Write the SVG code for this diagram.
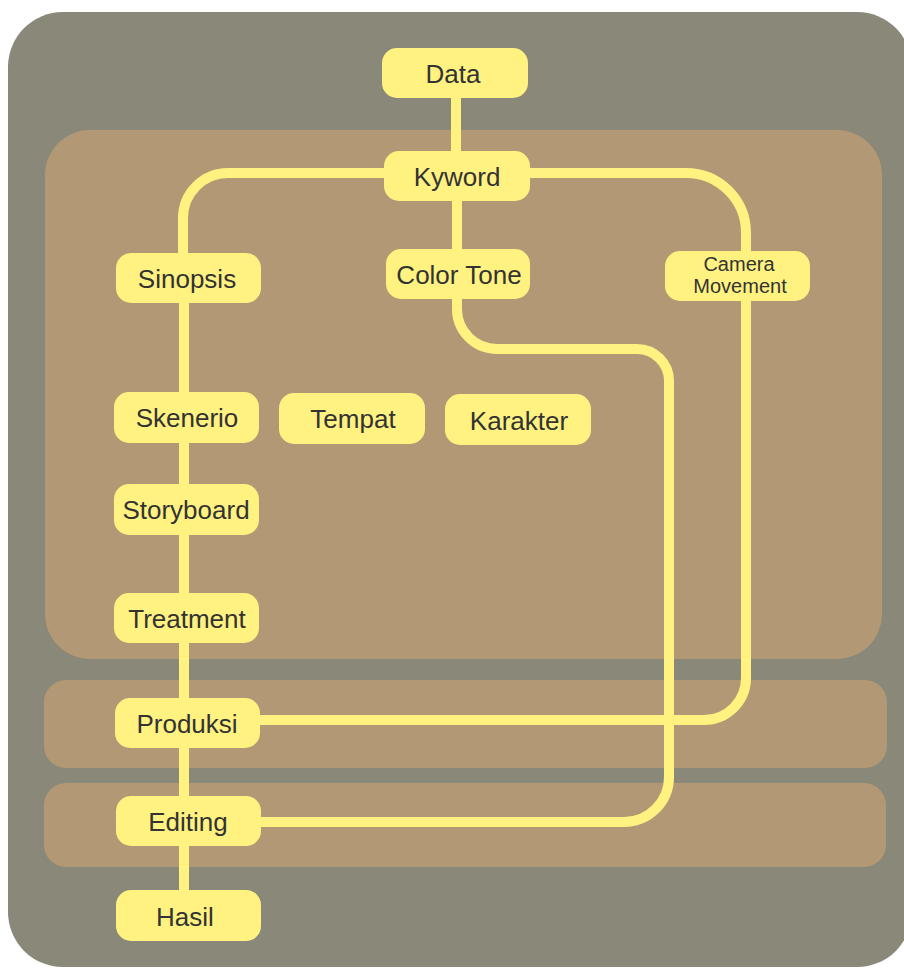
<svg xmlns="http://www.w3.org/2000/svg" width="904" height="969" viewBox="0 0 904 969">
<style>
.node rect{fill:#fff280;}
.node text{font-family:"Liberation Sans",Arial,sans-serif;font-size:26px;fill:#333;text-anchor:middle;}
.node text.small{font-size:20px;}
.conn path{fill:none;stroke:#fff280;stroke-width:10;stroke-linecap:butt;}
.panel{fill:#b29874;}
</style>
<rect width="904" height="969" fill="#ffffff"/>
<rect x="8" y="12" width="904" height="955" rx="55" fill="#8a8878"/>
<rect class="panel" x="45" y="130" width="837" height="529" rx="45"/>
<rect class="panel" x="44" y="680" width="843" height="88" rx="22"/>
<rect class="panel" x="44" y="783" width="842" height="84" rx="22"/>
<g id="connectors" class="conn">
<path d="M456,98 V151"/>
<path d="M384,173 H228 A45,45 0 0 0 183,218 V253"/>
<path d="M530,173 H686 A60,60 0 0 1 746,233 V251"/>
<path d="M746,301 V678 A42,42 0 0 1 704,720 H260"/>
<path d="M457,201 V249"/>
<path d="M457,299 V309 A40,40 0 0 0 497,349 H637 A32,32 0 0 1 669,381 V777 A45,45 0 0 1 624,822 H261"/>
<path d="M184,303 V890"/>
</g>
<g id="data" class="node"><rect x="382" y="48" width="146" height="50" rx="15"/><text x="453" y="83">Data</text></g>
<g id="kyword" class="node"><rect x="384" y="151" width="146" height="50" rx="15"/><text x="457" y="186">Kyword</text></g>
<g id="sinopsis" class="node"><rect x="116" y="253" width="145" height="50" rx="15"/><text x="187" y="288">Sinopsis</text></g>
<g id="color-tone" class="node"><rect x="386" y="249" width="144" height="50" rx="15"/><text x="459" y="284">Color Tone</text></g>
<g id="camera-movement" class="node"><rect x="665" y="251" width="145" height="50" rx="15"/><text class="small" x="739" y="271">Camera</text><text class="small" x="740" y="293">Movement</text></g>
<g id="skenerio" class="node"><rect x="114" y="392" width="145" height="51" rx="15"/><text x="187" y="427">Skenerio</text></g>
<g id="tempat" class="node"><rect x="279" y="393" width="146" height="51" rx="15"/><text x="353" y="428">Tempat</text></g>
<g id="karakter" class="node"><rect x="445" y="394" width="146" height="51" rx="15"/><text x="519" y="430">Karakter</text></g>
<g id="storyboard" class="node"><rect x="114" y="484" width="145" height="51" rx="15"/><text x="186" y="519">Storyboard</text></g>
<g id="treatment" class="node"><rect x="114" y="593" width="145" height="50" rx="15"/><text x="187" y="628">Treatment</text></g>
<g id="produksi" class="node"><rect x="115" y="698" width="145" height="50" rx="15"/><text x="187" y="733">Produksi</text></g>
<g id="editing" class="node"><rect x="116" y="796" width="145" height="50" rx="15"/><text x="188" y="831">Editing</text></g>
<g id="hasil" class="node"><rect x="116" y="890" width="145" height="51" rx="15"/><text x="185" y="926">Hasil</text></g>
</svg>
